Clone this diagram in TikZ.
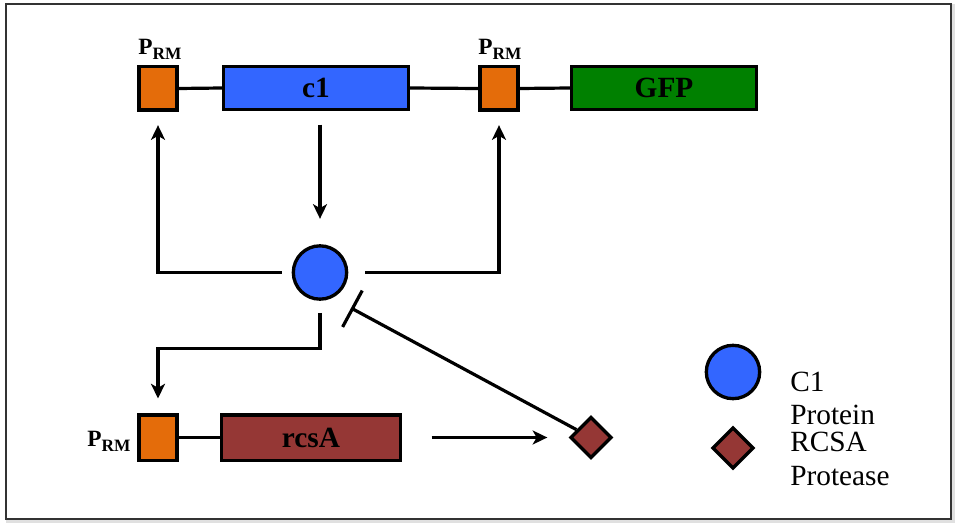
\documentclass[tikz,border=0pt]{standalone}
\usepackage{fontspec}
\setmainfont{Liberation Serif}
\usetikzlibrary{arrows.meta,shapes.geometric}

\definecolor{promcol}{HTML}{E46C0A}
\definecolor{c1col}{HTML}{3366FF}
\definecolor{gfpcol}{HTML}{008000}
\definecolor{rcscol}{HTML}{953735}

\newcommand{\promtext}{P\raisebox{-3.7pt}{\fontsize{13}{14}\selectfont RM}}

\begin{document}
\begin{tikzpicture}[x=0.75pt,y=-0.75pt,
  box/.style={draw=black,line width=2.5pt,inner sep=0pt,minimum height=32.5pt},
  prom/.style={box,fill=promcol,minimum width=28.5pt},
  gene/.style={box,minimum width=138.5pt,font=\fontsize{22}{26}\selectfont\bfseries},
  plabel/.style={font=\fontsize{17.5}{20}\selectfont\bfseries,inner sep=0pt,anchor=base},
  link/.style={line width=2.4pt},
  act/.style={link,-{Stealth[length=11pt,width=10.5pt,inset=3pt]}},
  inh/.style={link,-{Bar[width=31pt,line width=2.4pt]}},
  protein/.style={circle,draw=black,line width=2.5pt,fill=c1col,minimum size=40pt,inner sep=0pt},
  protease/.style={diamond,aspect=1,draw=black,line width=2.5pt,fill=rcscol,minimum size=31pt,inner sep=0pt},
  keytext/.style={font=\fontsize{22}{26}\selectfont,inner sep=0pt,anchor=base west}
]
\useasboundingbox (0,0) rectangle (960,527);

% frame
\draw[line width=3pt,black!12] (8,6) rectangle (953,521);
\draw[line width=1.8pt,black!80,fill=white] (6,4) rectangle (951,519);

% top construct
\node[prom] (p1) at (158,88.5) {};
\node[gene,fill=c1col] (c1) at (316,88) {c1};
\node[prom] (p2) at (499,88.5) {};
\node[gene,fill=gfpcol] (gfp) at (664,88) {GFP};
\node[plabel] (l1) at (160,55) {\promtext};
\node[plabel] (l2) at (500,55) {\promtext};
\draw[link] (p1.east) -- (c1.west);
\draw[link] (c1.east) -- (p2.west);
\draw[link] (p2.east) -- (gfp.west);

% bottom construct
\node[prom,minimum height=34pt] (p3) at (158,437.5) {};
\node[gene,fill=rcscol,minimum width=134.5pt,minimum height=34pt] (rcsA) at (311,437.5) {rcsA};
\node[plabel] (l3) at (109,446.7) {\promtext};
\draw[link] (p3.east) -- (rcsA.west);

% proteins
\node[protein] (prot) at (320,272.5) {};
\node[protease] (rcs) at (591,437.5) {};
\coordinate (block) at (351,308);

\draw[act,shorten <=10pt,shorten >=19pt] (c1.south -| prot.north) -- (prot.north);
\draw[act,shorten <=7.5pt,shorten >=10pt] (prot.west) -| (p1.south);
\draw[act,shorten <=12.5pt,shorten >=10pt] (prot.east) -| (p2.south);
\draw[act,shorten <=9pt,shorten >=11pt] (prot.south) -- ++(0,48) -| (p3.north);
\draw[act,shorten <=22pt,shorten >=16pt] (rcsA.east) -- (rcs.west);
\draw[inh] (rcs) -- (block);

% key
\node[protein] (keyprot) at (733,372) {};
\node[protease] (keyrcs) at (733,448) {};
\node[keytext] (k1) at (790,391) {C1};
\node[keytext] (k2) at (790,424) {Protein};
\node[keytext] (k3) at (790,451) {RCSA};
\node[keytext] (k4) at (790,485) {Protease};
\end{tikzpicture}
\end{document}
